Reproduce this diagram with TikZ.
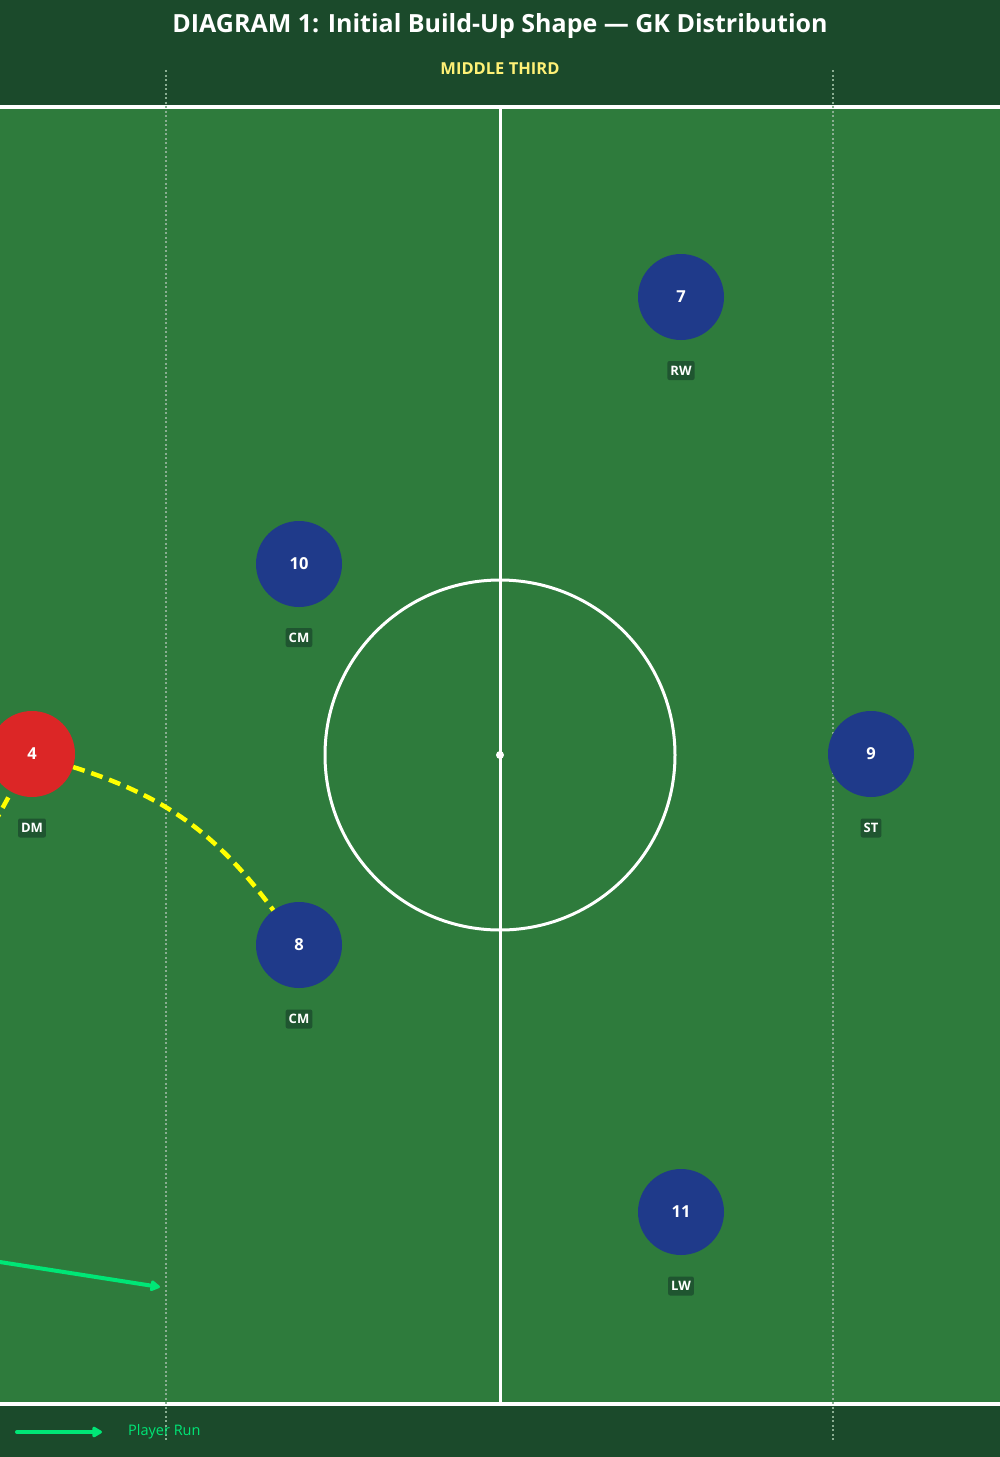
\documentclass[tikz,border=0pt]{standalone}
\usepackage{fontspec}
\setmainfont{Open Sans}
\usetikzlibrary{arrows.meta}
\definecolor{hdr}{HTML}{1B4A2B}
\definecolor{pitch}{HTML}{2E7B3C}
\definecolor{blueP}{HTML}{1F3A8A}
\definecolor{redP}{HTML}{DC2626}
\definecolor{lbl}{HTML}{1F5530}
\definecolor{passY}{HTML}{FFFF00}
\definecolor{subY}{HTML}{FFF176}
\definecolor{runG}{HTML}{00E676}
\definecolor{dotG}{HTML}{8AAE92}
\tikzset{
  player/.style={circle, minimum size=86pt, inner sep=0pt, text=white, font=\bfseries\fontsize{16.5}{16.5}\selectfont},
  blueplayer/.style={player, fill=blueP},
  redplayer/.style={player, fill=redP},
  poslabel/.style={fill=lbl, rounded corners=2pt, text=white, inner xsep=3pt, minimum height=19pt, inner ysep=0pt, font=\bfseries\fontsize{13}{13}\selectfont},
  thirdline/.style={draw=dotG, line width=1.6pt, dash pattern=on 2pt off 2.5pt},
  pitchline/.style={draw=white, line width=3pt},
  passline/.style={draw=passY, line width=4.5pt, dash pattern=on 12pt off 7pt},
  runline/.style={draw=runG, line width=4pt, line cap=round, line join=round, -{Triangle[length=11pt,width=12pt,round]}},
}
\begin{document}
\begin{tikzpicture}[x=1pt,y=-1pt]
\useasboundingbox (0,0) rectangle (1000,1457);
\clip (0,0) rectangle (1000,1457);
% backgrounds
\fill[hdr] (0,0) rectangle (1000,1457);
\fill[pitch] (0,107) rectangle (1000,1404);
% pitch markings
\draw[white, line width=4pt] (-10,107) -- (1010,107);
\draw[white, line width=4pt] (-10,1404) -- (1010,1404);
\coordinate (halfTop) at (500,107);
\coordinate (halfBot) at (500,1404);
\draw[pitchline] (halfTop) -- (halfBot);
\coordinate (cspot) at (500,755);
\draw[pitchline] (cspot) circle (175);
\fill[white] (cspot) circle (4);
% thirds
\coordinate (tlA) at (166,70); \coordinate (tlB) at (166,1442);
\coordinate (trA) at (833,70); \coordinate (trB) at (833,1442);
\draw[thirdline] (tlA) -- (tlB);
\draw[thirdline] (trA) -- (trB);
% header texts
\node[text=white, font=\bfseries\fontsize{25}{25}\selectfont] (title) at (500,26.5) {DIAGRAM 1: Initial Build-Up Shape — GK Distribution};
\node[text=subY, font=\bfseries\fontsize{16.5}{16.5}\selectfont] (sub) at (500,69) {MIDDLE THIRD};
% players
\node[blueplayer] (p7) at (681,297) {7};
\node[blueplayer] (p10) at (299,564) {10};
\node[redplayer] (p4) at (32,754) {4};
\node[blueplayer] (p9) at (871,754) {9};
\node[blueplayer] (p8) at (299,945) {8};
\node[blueplayer] (p11) at (681,1212) {11};
\node[poslabel] (l7) at (681,370.5) {RW};
\node[poslabel] (l10) at (299,637.5) {CM};
\node[poslabel] (l4) at (32,828) {DM};
\node[poslabel] (l9) at (871,828) {ST};
\node[poslabel] (l8) at (299,1019) {CM};
\node[poslabel] (l11) at (681,1286) {LW};
% passes
\coordinate (passSrc) at (-52,908);
\draw[passline] (passSrc) -- (p4);
\draw[passline] (p4) to[bend left=18] (p8);
% run
\coordinate (runSrc) at (-100,1246.4);
\coordinate (runEnd) at (160,1287);
\draw[runline] (runSrc) -- (runEnd);
% legend
\coordinate (lgA) at (17,1432);
\coordinate (lgB) at (102,1432);
\draw[runline] (lgA) -- (lgB);
\node[anchor=west, text=runG, font=\fontsize{14.5}{14.5}\selectfont, inner sep=0pt] (lgT) at (128,1432) {Player Run};
\end{tikzpicture}
\end{document}
